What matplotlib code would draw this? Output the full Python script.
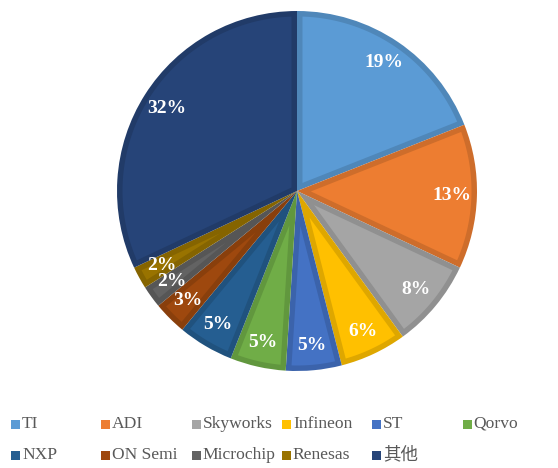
import numpy as np
import matplotlib.pyplot as plt
from matplotlib.patches import Rectangle, Polygon
from matplotlib.colors import to_rgb

labels = ['TI', 'ADI', 'Skyworks', 'Infineon', 'ST', 'Qorvo',
          'NXP', 'ON Semi', 'Microchip', 'Renesas', '其他']
shares = [19, 13, 8, 6, 5, 5, 5, 3, 2, 2, 32]
colors = ['#5B9BD5', '#ED7D31', '#A5A5A5', '#FFC000', '#4472C4', '#70AD47',
          '#255E91', '#9E480E', '#636363', '#997300', '#264478']

W, H = 558, 468
fig = plt.figure(figsize=(W / 100, H / 100), dpi=100)

# pie axes: centre (297, 191), radius 180 px
cx, cy, r = 297, 191, 180
ax = fig.add_axes([(cx - r) / W, (H - cy - r) / H, 2 * r / W, 2 * r / H])
ax.set_aspect('equal')
ax.axis('off')

dark = [tuple(v * 0.87 for v in to_rgb(c)) for c in colors]
wedges, _, autotexts = ax.pie(
    shares, colors=dark, startangle=90, counterclock=False,
    autopct='%d%%', pctdistance=0.86, radius=1,
    wedgeprops=dict(linewidth=0),
    textprops=dict(color='white', fontsize=14, fontweight='bold',
                   family='Liberation Serif', zorder=5))
ax.set_xlim(-1, 1)
ax.set_ylim(-1, 1)

# lighter inset wedge on top, leaving a darker rim
d = 5.5 / r
for w, c in zip(wedges, colors):
    t1, t2 = np.radians(w.theta1), np.radians(w.theta2)
    half = (t2 - t1) / 2
    rr = 1 - d
    da = np.arcsin(d / rr)
    arc = np.linspace(t1 + da, t2 - da, 80)
    apex = d / np.sin(half)
    mid = (t1 + t2) / 2
    pts = [(apex * np.cos(mid), apex * np.sin(mid))]
    pts += [(rr * np.cos(a), rr * np.sin(a)) for a in arc]
    ax.add_patch(Polygon(pts, closed=True, color=c, lw=0, zorder=2))

# legend drawn by hand, row-major in 6 columns
font = ['Liberation Serif', 'Noto Sans CJK SC']
x0, dx = 11, 90.3
rows_y = [424, 455]
for i, (lab, c) in enumerate(zip(labels, colors)):
    row, col = divmod(i, 6)
    x = x0 + col * dx
    y = rows_y[row]
    fig.add_artist(Rectangle((x / W, (H - y - 4.5) / H), 9 / W, 9 / H,
                             transform=fig.transFigure, color=c, lw=0))
    fig.text((x + 11) / W, (H - y) / H, lab, ha='left', va='center',
             fontsize=12.6, color='#595959', family=font)

fig.savefig('out.png', dpi=100)
